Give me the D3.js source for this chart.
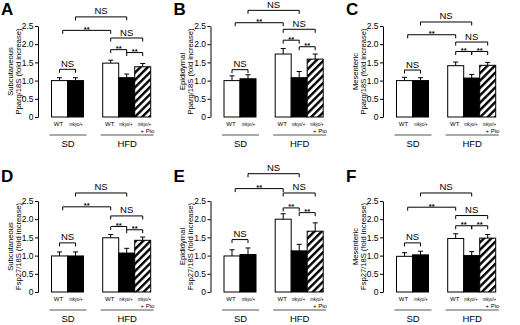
<!DOCTYPE html>
<html>
<head>
<meta charset="utf-8">
<script src="https://cdn.jsdelivr.net/npm/d3@7/dist/d3.min.js"></script>
<style>
  body { margin: 0; background: #fff; }
  text { font-family: "Liberation Sans", Arial, Helvetica, sans-serif; fill: #000; }
</style>
</head>
<body>
<svg id="fig" width="520" height="325"></svg>
<script>
// panel data
var panelLetters = ["A", "B", "C", "D", "E", "F"];
var depots = ["Subcutaneous", "Epididymal", "Mesenteric", "Subcutaneous", "Epididymal", "Mesenteric"];
var genes = ["Pparg/18S", "Pparg/18S", "Pparg/18S", "Fsp27/18S", "Fsp27/18S", "Fsp27/18S"];
var barLabels = [["WT"], ["mkyo/+"], ["WT"], ["mkyo/+"], ["mkyo/+", "+ Pio"]];
var barFills = ["white", "black", "white", "black", "hatch"];
var dietGroups = ["SD", "HFD"];
var yTicks = [0, 0.5, 1.0, 1.5, 2.0, 2.5];

// mean fold increase, order: SD WT, SD mkyo/+, HFD WT, HFD mkyo/+, HFD mkyo/+ + Pio
var means = [
    [1.00, 1.00, 1.48, 1.08, 1.38],
    [1.00, 1.05, 1.73, 1.08, 1.59],
    [1.00, 1.00, 1.41, 1.07, 1.42],
    [0.99, 0.99, 1.49, 1.07, 1.42],
    [0.99, 1.03, 2.00, 1.13, 1.67],
    [0.98, 1.02, 1.47, 1.00, 1.48]
];
var sems = [
    [0.08, 0.08, 0.08, 0.10, 0.09],
    [0.13, 0.11, 0.15, 0.17, 0.14],
    [0.09, 0.08, 0.10, 0.10, 0.08],
    [0.11, 0.11, 0.09, 0.13, 0.09],
    [0.17, 0.18, 0.15, 0.18, 0.23],
    [0.10, 0.10, 0.13, 0.11, 0.10]
];

// significance brackets: [from bar, to bar, height (fold), label]
var brackets = [
    [[0, 1, 1.31, "NS"], [0.2, 2, 2.38, "**"], [1, 3, 2.75, "NS"], [2, 4, 2.17, "NS"], [2, 3, 1.85, "**"], [3, 4, 1.77, "**"]],
    [[0, 1, 1.30, "NS"], [0.2, 2, 2.59, "**"], [1, 3, 2.93, "NS"], [2, 4, 2.41, "NS"], [2, 3, 2.11, "**"], [3, 4, 1.93, "**"]],
    [[0, 1, 1.29, "NS"], [0.2, 2, 2.26, "**"], [1, 3, 2.61, "NS"], [2, 4, 2.06, "NS"], [2, 3, 1.80, "**"], [3, 4, 1.80, "**"]],
    [[0, 1, 1.35, "NS"], [0.2, 2, 2.34, "**"], [1, 3, 2.72, "NS"], [2, 4, 2.09, "NS"], [2, 3, 1.80, "**"], [3, 4, 1.71, "**"]],
    [[0, 1, 1.44, "NS"], [0.2, 2, 2.84, "**"], [1, 3, 3.25, "NS"], [2, 4, 2.72, "NS"], [2, 3, 2.31, "**"], [3, 4, 2.18, "**"]],
    [[0, 1, 1.35, "NS"], [0.2, 2, 2.33, "**"], [1, 3, 2.72, "NS"], [2, 4, 2.10, "NS"], [2, 3, 1.82, "**"], [3, 4, 1.82, "**"]]
];

// layout
var colX = [38, 210.5, 383];
var rowY0 = [117, 292];
var letterY = [15, 181.5];
var slotPos = [0, 1, 3.2, 4.2, 5.2];
var labelShift = [-1, 0.5, -1, -0.8, 1.8];
var barW = 16;

var svg = d3.select("#fig");

// hatch pattern for the Pio bars
svg.append("defs").append("pattern")
    .attr("id", "hatch")
    .attr("patternUnits", "userSpaceOnUse")
    .attr("width", 5.2)
    .attr("height", 5.2)
    .attr("patternTransform", "rotate(45)")
    .call(function (p) {
        p.append("rect").attr("width", 5.2).attr("height", 5.2).attr("fill", "white");
        p.append("rect").attr("width", 2.4).attr("height", 5.2).attr("fill", "black");
    });

panelLetters.forEach(function (letter, p) {
    var col = p % 3, row = Math.floor(p / 3);
    var ax = colX[col], y0 = rowY0[row];

    var y = d3.scaleLinear().domain([0, 2.5]).range([y0, y0 - 91]);
    var x = d3.scaleLinear().domain([0, 1]).range([ax + 13.5, ax + 13.5 + barW]);
    var cx = function (i) {
        // fractional bar index -> centre x
        var k = Math.floor(i), f = i - k;
        var pos = slotPos[k] + f * (k < 4 ? slotPos[k + 1] - slotPos[k] : 1);
        return x(pos) + barW / 2;
    };

    var g = svg.append("g");

    // panel letter
    g.append("text")
        .attr("x", col === 0 ? 1 : ax - 37)
        .attr("y", letterY[row])
        .attr("font-size", 17)
        .attr("font-weight", "bold")
        .text(letter);

    // y axis
    var axis = g.append("g")
        .attr("transform", "translate(" + ax + ",0)")
        .call(d3.axisLeft(y).tickValues(yTicks).tickSize(3).tickSizeOuter(0)
            .tickFormat(function (d) { return d === 0 ? "0" : d3.format(".1f")(d); }));
    axis.select(".domain").attr("stroke", "#000");
    axis.selectAll(".tick line").attr("stroke", "#000");
    axis.selectAll(".tick text").attr("font-size", 8.5).attr("x", -4.5)
        .style("font-family", "'Liberation Sans', Arial, sans-serif");

    // y title
    var title = g.append("text")
        .attr("transform", "translate(" + (ax - 25.5) + "," + ((y(0) + y(2.5)) / 2) + ") rotate(-90)")
        .attr("text-anchor", "middle")
        .attr("font-size", 7.6);
    title.append("tspan").attr("x", 0).attr("dy", 0).text(depots[p]);
    title.append("tspan").attr("x", 0).attr("dy", 8).text(genes[p] + " (fold increase)");

    // bars
    means[p].forEach(function (m, i) {
        var bx = x(slotPos[i]);
        g.append("rect")
            .attr("x", bx)
            .attr("y", y(m))
            .attr("width", barW)
            .attr("height", y(0) - y(m))
            .attr("fill", barFills[i] === "hatch" ? "url(#hatch)" : barFills[i])
            .attr("stroke", "#000")
            .attr("stroke-width", 1);

        // error bar (upper)
        var c = bx + barW / 2, top = y(m + sems[p][i]);
        g.append("path")
            .attr("d", "M" + c + "," + y(m) + "V" + top + "M" + (c - 2.5) + "," + top + "H" + (c + 2.5))
            .attr("stroke", "#000")
            .attr("stroke-width", 1)
            .attr("fill", "none");

        // x label
        var lx = c + labelShift[i];
        var lab = g.append("text")
            .attr("y", y0 + 9)
            .attr("text-anchor", "middle")
            .attr("font-size", 6);
        barLabels[i].forEach(function (t, j) {
            var ts = lab.append("tspan")
                .attr("x", j === 0 ? lx : lx + 3)
                .attr("dy", j === 0 ? 0 : 6.5)
                .text(t);
            if (t === "mkyo/+") ts.attr("textLength", 13.5).attr("lengthAdjust", "spacingAndGlyphs");
        });
    });

    // diet group lines + labels
    var groupBars = [[0, 1], [2, 4]];
    dietGroups.forEach(function (d, k) {
        var x1 = x(slotPos[groupBars[k][0]]) - 2, x2 = x(slotPos[groupBars[k][1]]) + barW + 3;
        g.append("line")
            .attr("x1", x1).attr("x2", x2)
            .attr("y1", y0 + 18).attr("y2", y0 + 18)
            .attr("stroke", "#555").attr("stroke-width", 1);
        g.append("text")
            .attr("x", (x1 + x2) / 2)
            .attr("y", y0 + 30)
            .attr("text-anchor", "middle")
            .attr("font-size", 9.5)
            .text(d);
    });

    // significance brackets
    brackets[p].forEach(function (b) {
        var x1 = cx(b[0]), x2 = cx(b[1]), yb = y(b[2]);
        g.append("path")
            .attr("d", "M" + x1 + "," + (yb + 3.5) + "V" + yb + "H" + x2 + "V" + (yb + 3.5))
            .attr("stroke", "#000")
            .attr("stroke-width", 1)
            .attr("fill", "none");
        g.append("text")
            .attr("x", (x1 + x2) / 2)
            .attr("y", b[3] === "NS" ? yb - 2.5 : yb + 1.5)
            .attr("text-anchor", "middle")
            .attr("font-size", b[3] === "NS" ? 9.5 : 7.5)
            .attr("font-weight", b[3] === "NS" ? "normal" : "bold")
            .text(b[3]);
    });
});
</script>
</body>
</html>
